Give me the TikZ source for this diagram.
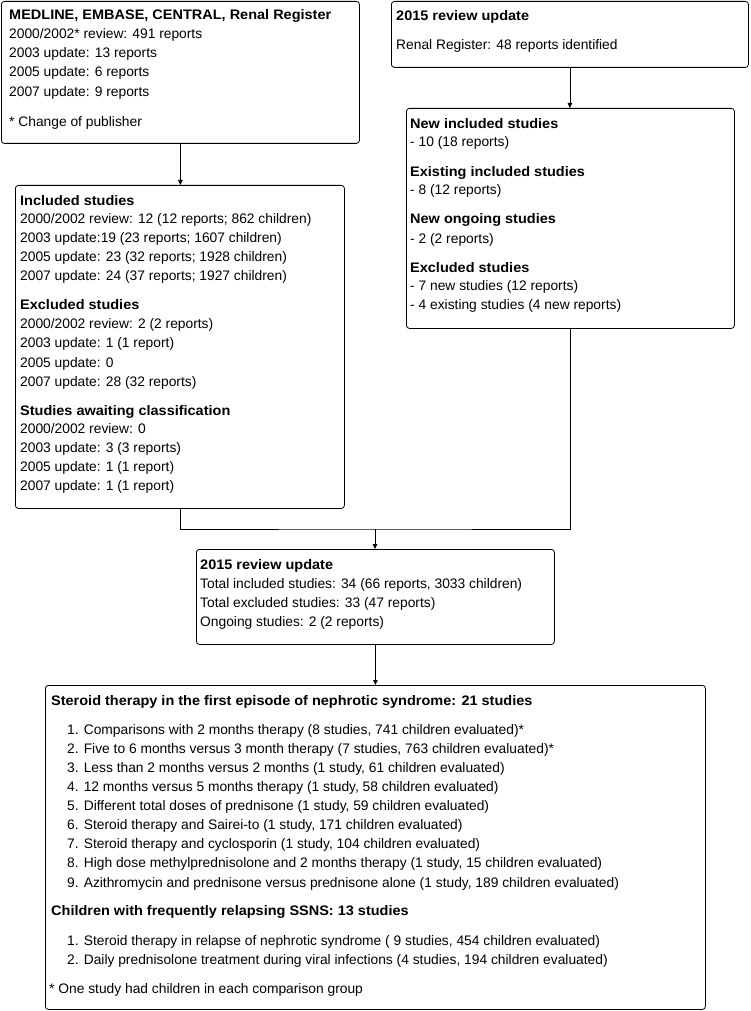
\documentclass[tikz,border=0pt]{standalone}
\usepackage{fontspec}
\setmainfont{Liberation Sans}[BoldFeatures={FakeStretch=1.05}]
\usetikzlibrary{arrows.meta}
\begin{document}
\begin{tikzpicture}[x=1pt,y=-1pt,
  box/.style={draw, rounded corners=3pt, line width=0.8pt, inner sep=0pt, anchor=north west},
  txt/.style={anchor=north west, inner sep=0pt, align=left, font=\fontsize{13.8}{19.1}\selectfont},
  conn/.style={line width=0.8pt},
  arr/.style={line width=0.8pt, -{Triangle[length=5pt,width=4.5pt]}}]
\useasboundingbox[fill=white] (0,0) rectangle (750,1011);
% boxes
\node[box, minimum width=358pt, minimum height=142pt] (b1) at (1,1) {};
\node[box, minimum width=357pt, minimum height=66pt] (b2) at (391,1) {};
\node[box, minimum width=328pt, minimum height=220pt] (b3) at (406,108) {};
\node[box, minimum width=329pt, minimum height=323pt] (b4) at (15,185) {};
\node[box, minimum width=358pt, minimum height=95pt] (b5) at (196,549) {};
\node[box, minimum width=660pt, minimum height=324pt] (b6) at (45,685) {};
% texts
\node[txt] (t1) at (9,9.5) {\textbf{MEDLINE, EMBASE, CENTRAL, Renal Register}\\
2000/2002* review: 491 reports\\
2003 update: 13 reports\\
2005 update: 6 reports\\
2007 update: 9 reports\\[11pt]
* Change of publisher};
\node[txt] (t2) at (396,10.5) {\textbf{2015 review update}\\[10pt]
Renal Register: 48 reports identified};
\node[txt] (t3) at (410,118.5) {\textbf{New included studies}\\[-1pt]
- 10 (18 reports)\\[10.5pt]
\textbf{Existing included studies}\\[-1pt]
- 8 (12 reports)\\[10pt]
\textbf{New ongoing studies}\\[0.5pt]
- 2 (2 reports)\\[10pt]
\textbf{Excluded studies}\\[-1pt]
- 7 new studies (12 reports)\\
- 4 existing studies (4 new reports)};
\node[txt] (t4) at (20,195) {\textbf{Included studies}\\[-1pt]
2000/2002 review: 12 (12 reports; 862 children)\\
2003 update:19 (23 reports; 1607 children)\\
2005 update: 23 (32 reports; 1928 children)\\
2007 update: 24 (37 reports; 1927 children)\\[10pt]
\textbf{Excluded studies}\\
2000/2002 review: 2 (2 reports)\\
2003 update: 1 (1 report)\\
2005 update: 0\\
2007 update: 28 (32 reports)\\[10pt]
\textbf{Studies awaiting classification}\\[-1pt]
2000/2002 review: 0\\
2003 update: 3 (3 reports)\\
2005 update: 1 (1 report)\\
2007 update: 1 (1 report)};
\node[txt] (t5) at (200,559) {\textbf{2015 review update}\\
Total included studies: 34 (66 reports, 3033 children)\\
Total excluded studies: 33 (47 reports)\\
Ongoing studies: 2 (2 reports)};
\node[txt] (h6a) at (51,695) {\textbf{Steroid therapy in the first episode of nephrotic syndrome: 21 studies}};
\node[txt] (l6a) at (67,724) {1. Comparisons with 2 months therapy (8 studies, 741 children evaluated)*\\
2. Five to 6 months versus 3 month therapy (7 studies, 763 children evaluated)*\\
3. Less than 2 months versus 2 months (1 study, 61 children evaluated)\\
4. 12 months versus 5 months therapy (1 study, 58 children evaluated)\\
5. Different total doses of prednisone (1 study, 59 children evaluated)\\
6. Steroid therapy and Sairei-to (1 study, 171 children evaluated)\\
7. Steroid therapy and cyclosporin (1 study, 104 children evaluated)\\
8. High dose methylprednisolone and 2 months therapy (1 study, 15 children evaluated)\\
9. Azithromycin and prednisone versus prednisone alone (1 study, 189 children evaluated)};
\node[txt] (h6b) at (51,905) {\textbf{Children with frequently relapsing SSNS: 13 studies}};
\node[txt] (l6b) at (67,935) {1. Steroid therapy in relapse of nephrotic syndrome ( 9 studies, 454 children evaluated)\\
2. Daily prednisolone treatment during viral infections (4 studies, 194 children evaluated)};
\node[txt] (f6) at (49,983) {* One study had children in each comparison group};
% connectors
\coordinate (j) at (375,529);
\draw[arr] (b1.south) -- (b1.south |- b4.north);
\draw[arr] (b2.south) -- (b2.south |- b3.north);
\draw[conn] (b4.south) |- (j) -| (b3.south);
\draw[arr] (j) -- (j |- b5.north);
\draw[arr] (b5.south) -- (b5.south |- b6.north);
\end{tikzpicture}
\end{document}
